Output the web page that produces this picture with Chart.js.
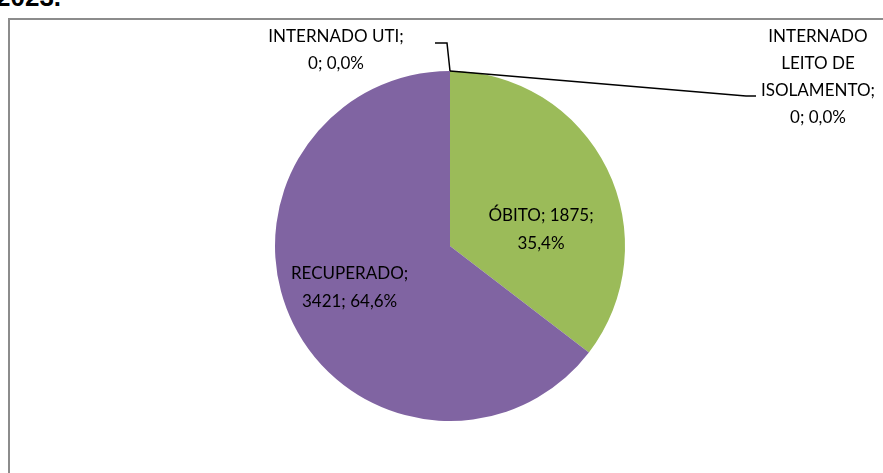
<!DOCTYPE html>
<html>
<head>
<meta charset="utf-8">
<script src="https://cdn.jsdelivr.net/npm/chart.js@4"></script>
<style>
  html, body { margin: 0; padding: 0; background: #fff; overflow: hidden; }
  #wrap { position: relative; width: 883px; height: 473px; }
  #title { position: absolute; left: -4px; top: -18px; font: bold 26px "Liberation Sans", Arial, sans-serif; color: #000; }
  #box { position: absolute; left: 8px; top: 18px; width: 900px; height: 500px; border: 2px solid #8c8c8c; box-sizing: border-box; }
  canvas { position: absolute; left: 0; top: 0; }
</style>
</head>
<body>
<div id="wrap">
  <div id="title">2023.</div>
  <div id="box"></div>
  <canvas id="pieChart" width="883" height="473"></canvas>
</div>
<script>
const categories = ['ÓBITO', 'RECUPERADO', 'INTERNADO UTI', 'INTERNADO LEITO DE ISOLAMENTO'];
const values = [1875, 3421, 0, 0];
const percents = ['35,4%', '64,6%', '0,0%', '0,0%'];
const sliceColors = ['#9bbb59', '#8064a2', '#4bacc6', '#f79646'];

// label text lines for each slice (Excel style "name; value; pct")
const labelLines = [
  ['ÓBITO; 1875;', '35,4%'],
  ['RECUPERADO;', '3421; 64,6%'],
  ['INTERNADO UTI;', '0; 0,0%'],
  ['INTERNADO', 'LEITO DE', 'ISOLAMENTO;', '0; 0,0%']
];

const FONT = '17px Lato, "Open Sans", sans-serif';
const LINE_H = 28;

const labelPlugin = {
  id: 'sliceLabels',
  afterDatasetsDraw(chart) {
    const ctx = chart.ctx;
    const arcs = chart.getDatasetMeta(0).data;
    const cx = arcs[0].x, cy = arcs[0].y, r = arcs[0].outerRadius;
    ctx.save();
    ctx.font = FONT;
    ctx.fillStyle = '#000';
    ctx.textAlign = 'center';
    ctx.textBaseline = 'middle';

    // inside labels
    [[0, 0.58, 28], [1, 0.64, -8]].forEach(([i, f, dy]) => {
      const a = arcs[i];
      const mid = (a.startAngle + a.endAngle) / 2;
      const x = cx + Math.cos(mid) * r * f;
      const y = cy + Math.sin(mid) * r * f + dy;
      const lines = labelLines[i];
      lines.forEach((t, k) => ctx.fillText(t, x, y + (k - (lines.length - 1) / 2) * LINE_H));
    });

    // zero slices sit at the top of the pie: outside labels with leader lines
    const topX = cx + Math.cos(arcs[2].startAngle) * r;
    const topY = cy + Math.sin(arcs[2].startAngle) * r;
    ctx.strokeStyle = '#000';
    ctx.lineWidth = 1.5;
    ctx.beginPath();
    ctx.moveTo(topX, topY);
    ctx.lineTo(topX - 3, topY - 28);
    ctx.lineTo(topX - 15, topY - 28);
    ctx.stroke();
    labelLines[2].forEach((t, k) => ctx.fillText(t, topX - 114, topY - 34 + k * 27));

    ctx.beginPath();
    ctx.moveTo(topX, topY);
    ctx.lineTo(topX + 296, topY + 25);
    ctx.lineTo(topX + 306, topY + 25);
    ctx.stroke();
    labelLines[3].forEach((t, k) => ctx.fillText(t, topX + 368, topY - 34 + k * 27));
    ctx.restore();
  }
};

new Chart(document.getElementById('pieChart'), {
  type: 'pie',
  data: {
    labels: categories,
    datasets: [{
      data: values,
      backgroundColor: sliceColors,
      borderWidth: 0
    }]
  },
  options: {
    responsive: false,
    animation: false,
    layout: { padding: { left: 275, right: 258, top: 71, bottom: 52 } },
    plugins: {
      legend: { display: false },
      tooltip: { enabled: false }
    }
  },
  plugins: [labelPlugin]
});
</script>
</body>
</html>
